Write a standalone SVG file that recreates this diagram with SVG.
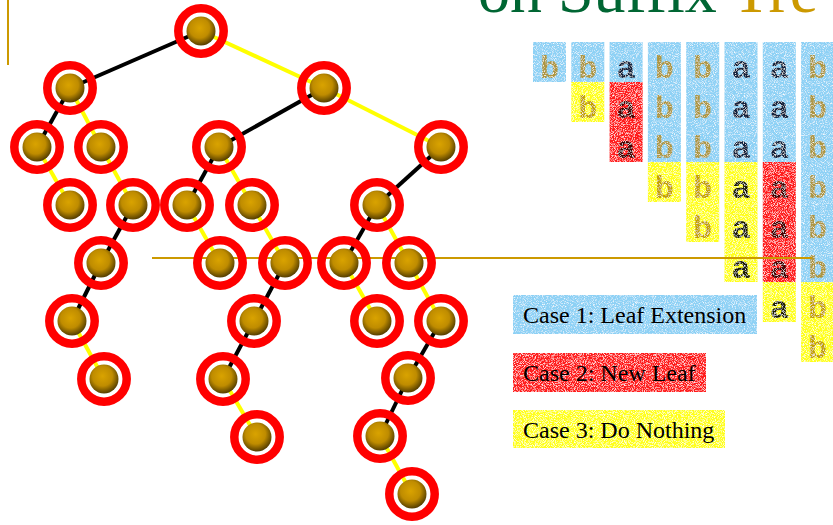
<svg xmlns="http://www.w3.org/2000/svg" width="833" height="525" viewBox="0 0 833 525">
  <defs>
    <radialGradient id="ballFill" cx="0.45" cy="0.4" r="0.62">
      <stop offset="0" stop-color="#d9a300"/>
      <stop offset="0.55" stop-color="#bf8c00"/>
      <stop offset="1" stop-color="#4d3800"/>
    </radialGradient>
    <!-- speckled texture used on the coloured cells -->
    <filter id="grain" x="0" y="0" width="1" height="1">
      <feTurbulence type="fractalNoise" baseFrequency="1.1" numOctaves="1" seed="7" result="noise"/>
      <feColorMatrix in="noise" type="matrix" values="0 0 0 0 1  0 0 0 0 1  0 0 0 0 1  3 0 0 0 -1.45" result="spots"/>
      <feComposite in="spots" in2="SourceAlpha" operator="in" result="spotsIn"/>
      <feMerge>
        <feMergeNode in="SourceGraphic"/>
        <feMergeNode in="spotsIn"/>
      </feMerge>
    </filter>
    <style>
      .ring { fill: none; stroke: #ff0000; stroke-width: 8.5; }
      .ball { fill: url(#ballFill); }
      .edge-a { stroke: #000000; stroke-width: 4; }
      .edge-b { stroke: #ffff00; stroke-width: 4; }
      .blue { fill: #8dd1f5; }
      .red { fill: #ff1a1a; }
      .yellow { fill: #ffff1a; }
      .ch { font-family: "Liberation Mono", "DejaVu Sans Mono", monospace; font-size: 32px; font-weight: bold; text-anchor: middle; }
      .cb { fill: #ad9640; }
      .cby { fill: #c4a200; }
      .ca { fill: #13233d; }
      .car { fill: #4a0505; }
      .cay { fill: #1a1a00; }
      .legend { font-family: "Liberation Serif", "Times New Roman", serif; font-size: 24px; fill: #000000; }
      .rule { stroke: #cc9900; stroke-width: 2; fill: none; }
    </style>
  </defs>

  <rect width="833" height="525" fill="#ffffff"/>

  <!-- heading, cut by the top edge -->
  <text x="478" y="12" font-family="Liberation Serif, Times New Roman, serif" font-size="64" fill="#006633">on Suffix <tspan fill="#cc9900">Tre</tspan></text>

  <!-- left margin rule -->
  <line class="rule" x1="8" y1="0" x2="8" y2="65"/>

  <!-- character columns -->
  <g id="grid" filter="url(#grain)">
    <rect class="blue" x="533" y="42" width="33" height="40"/>
    <rect class="blue" x="571.3" y="42" width="33" height="40"/>
    <rect class="yellow" x="571.3" y="82" width="33" height="40"/>
    <rect class="blue" x="609.6" y="42" width="33" height="40"/>
    <rect class="red" x="609.6" y="82" width="33" height="80"/>
    <rect class="blue" x="647.9" y="42" width="33" height="120"/>
    <rect class="yellow" x="647.9" y="162" width="33" height="40"/>
    <rect class="blue" x="686.2" y="42" width="33" height="120"/>
    <rect class="yellow" x="686.2" y="162" width="33" height="80"/>
    <rect class="blue" x="724.5" y="42" width="33" height="120"/>
    <rect class="yellow" x="724.5" y="162" width="33" height="120"/>
    <rect class="blue" x="762.8" y="42" width="33" height="120"/>
    <rect class="red" x="762.8" y="162" width="33" height="120"/>
    <rect class="yellow" x="762.8" y="282" width="33" height="40"/>
    <rect class="blue" x="801.1" y="42" width="33" height="240"/>
    <rect class="yellow" x="801.1" y="282" width="33" height="80"/>

    <text class="ch cb" x="549.5" y="78">b</text>

    <text class="ch cb" x="587.8" y="78">b</text>
    <text class="ch cby" x="587.8" y="118">b</text>

    <text class="ch ca" x="626.1" y="78">a</text>
    <text class="ch car" x="626.1" y="118">a</text>
    <text class="ch car" x="626.1" y="158">a</text>

    <text class="ch cb" x="664.4" y="78">b</text>
    <text class="ch cb" x="664.4" y="118">b</text>
    <text class="ch cb" x="664.4" y="158">b</text>
    <text class="ch cby" x="664.4" y="198">b</text>

    <text class="ch cb" x="702.7" y="78">b</text>
    <text class="ch cb" x="702.7" y="118">b</text>
    <text class="ch cb" x="702.7" y="158">b</text>
    <text class="ch cby" x="702.7" y="198">b</text>
    <text class="ch cby" x="702.7" y="238">b</text>

    <text class="ch ca" x="741" y="78">a</text>
    <text class="ch ca" x="741" y="118">a</text>
    <text class="ch ca" x="741" y="158">a</text>
    <text class="ch cay" x="741" y="198">a</text>
    <text class="ch cay" x="741" y="238">a</text>
    <text class="ch cay" x="741" y="278">a</text>

    <text class="ch ca" x="779.3" y="78">a</text>
    <text class="ch ca" x="779.3" y="118">a</text>
    <text class="ch ca" x="779.3" y="158">a</text>
    <text class="ch car" x="779.3" y="198">a</text>
    <text class="ch car" x="779.3" y="238">a</text>
    <text class="ch car" x="779.3" y="278">a</text>
    <text class="ch cay" x="779.3" y="318">a</text>

    <text class="ch cb" x="817.6" y="78">b</text>
    <text class="ch cb" x="817.6" y="118">b</text>
    <text class="ch cb" x="817.6" y="158">b</text>
    <text class="ch cb" x="817.6" y="198">b</text>
    <text class="ch cb" x="817.6" y="238">b</text>
    <text class="ch cb" x="817.6" y="278">b</text>
    <text class="ch cby" x="817.6" y="318">b</text>
    <text class="ch cby" x="817.6" y="358">b</text>
  </g>

  <!-- legend -->
  <g id="legend">
    <g filter="url(#grain)">
      <rect class="blue" x="513" y="295" width="244" height="39"/>
      <rect class="red" x="513" y="353" width="193" height="39"/>
      <rect class="yellow" x="513" y="410" width="212" height="38"/>
    </g>
    <text class="legend" x="523" y="323">Case 1: Leaf Extension</text>
    <text class="legend" x="523" y="381">Case 2: New Leaf</text>
    <text class="legend" x="523" y="438">Case 3: Do Nothing</text>
  </g>

  <!-- horizontal marker line -->
  <line class="rule" x1="152" y1="258" x2="812" y2="258"/>

  <!-- tree edges: black = 'a', yellow = 'b' -->
  <g id="connectors">
    <line class="edge-a" x1="201" y1="31" x2="70" y2="88"/>
    <line class="edge-b" x1="201" y1="31" x2="324" y2="88"/>
    <line class="edge-a" x1="70" y1="88" x2="37" y2="147"/>
    <line class="edge-b" x1="70" y1="88" x2="101" y2="147"/>
    <line class="edge-a" x1="324" y1="88" x2="219" y2="147"/>
    <line class="edge-b" x1="324" y1="88" x2="441" y2="147"/>
    <line class="edge-b" x1="37" y1="147" x2="70" y2="205"/>
    <line class="edge-b" x1="101" y1="147" x2="133" y2="205"/>
    <line class="edge-a" x1="219" y1="147" x2="187" y2="205"/>
    <line class="edge-b" x1="219" y1="147" x2="252" y2="205"/>
    <line class="edge-a" x1="441" y1="147" x2="377" y2="205"/>
    <line class="edge-a" x1="133" y1="205" x2="101" y2="263"/>
    <line class="edge-b" x1="187" y1="205" x2="220" y2="263"/>
    <line class="edge-b" x1="252" y1="205" x2="285" y2="263"/>
    <line class="edge-a" x1="377" y1="205" x2="344" y2="263"/>
    <line class="edge-b" x1="377" y1="205" x2="409" y2="263"/>
    <line class="edge-a" x1="101" y1="263" x2="72" y2="321"/>
    <line class="edge-b" x1="72" y1="321" x2="104" y2="379"/>
    <line class="edge-a" x1="285" y1="263" x2="254" y2="321"/>
    <line class="edge-a" x1="254" y1="321" x2="223" y2="379"/>
    <line class="edge-b" x1="223" y1="379" x2="257" y2="437"/>
    <line class="edge-b" x1="344" y1="263" x2="377" y2="321"/>
    <line class="edge-b" x1="409" y1="263" x2="441" y2="321"/>
    <line class="edge-a" x1="441" y1="321" x2="408" y2="378"/>
    <line class="edge-a" x1="408" y1="378" x2="380" y2="436"/>
    <line class="edge-b" x1="380" y1="436" x2="412" y2="494"/>
  </g>

  <!-- tree nodes -->
  <g id="n0"><circle class="ring" cx="201" cy="31" r="22.7"/><circle class="ball" cx="201" cy="31" r="14.5"/></g>
  <g id="n1"><circle class="ring" cx="70" cy="88" r="22.7"/><circle class="ball" cx="70" cy="88" r="14.5"/></g>
  <g id="n2"><circle class="ring" cx="324" cy="88" r="22.7"/><circle class="ball" cx="324" cy="88" r="14.5"/></g>
  <g id="n3"><circle class="ring" cx="37" cy="147" r="22.7"/><circle class="ball" cx="37" cy="147" r="14.5"/></g>
  <g id="n4"><circle class="ring" cx="101" cy="147" r="22.7"/><circle class="ball" cx="101" cy="147" r="14.5"/></g>
  <g id="n5"><circle class="ring" cx="219" cy="147" r="22.7"/><circle class="ball" cx="219" cy="147" r="14.5"/></g>
  <g id="n6"><circle class="ring" cx="441" cy="147" r="22.7"/><circle class="ball" cx="441" cy="147" r="14.5"/></g>
  <g id="n7"><circle class="ring" cx="70" cy="205" r="22.7"/><circle class="ball" cx="70" cy="205" r="14.5"/></g>
  <g id="n8"><circle class="ring" cx="133" cy="205" r="22.7"/><circle class="ball" cx="133" cy="205" r="14.5"/></g>
  <g id="n9"><circle class="ring" cx="187" cy="205" r="22.7"/><circle class="ball" cx="187" cy="205" r="14.5"/></g>
  <g id="n10"><circle class="ring" cx="252" cy="205" r="22.7"/><circle class="ball" cx="252" cy="205" r="14.5"/></g>
  <g id="n11"><circle class="ring" cx="377" cy="205" r="22.7"/><circle class="ball" cx="377" cy="205" r="14.5"/></g>
  <g id="n12"><circle class="ring" cx="101" cy="263" r="22.7"/><circle class="ball" cx="101" cy="263" r="14.5"/></g>
  <g id="n13"><circle class="ring" cx="220" cy="263" r="22.7"/><circle class="ball" cx="220" cy="263" r="14.5"/></g>
  <g id="n14"><circle class="ring" cx="285" cy="263" r="22.7"/><circle class="ball" cx="285" cy="263" r="14.5"/></g>
  <g id="n15"><circle class="ring" cx="344" cy="263" r="22.7"/><circle class="ball" cx="344" cy="263" r="14.5"/></g>
  <g id="n16"><circle class="ring" cx="409" cy="263" r="22.7"/><circle class="ball" cx="409" cy="263" r="14.5"/></g>
  <g id="n17"><circle class="ring" cx="72" cy="321" r="22.7"/><circle class="ball" cx="72" cy="321" r="14.5"/></g>
  <g id="n18"><circle class="ring" cx="104" cy="379" r="22.7"/><circle class="ball" cx="104" cy="379" r="14.5"/></g>
  <g id="n19"><circle class="ring" cx="254" cy="321" r="22.7"/><circle class="ball" cx="254" cy="321" r="14.5"/></g>
  <g id="n20"><circle class="ring" cx="223" cy="379" r="22.7"/><circle class="ball" cx="223" cy="379" r="14.5"/></g>
  <g id="n21"><circle class="ring" cx="257" cy="437" r="22.7"/><circle class="ball" cx="257" cy="437" r="14.5"/></g>
  <g id="n22"><circle class="ring" cx="377" cy="321" r="22.7"/><circle class="ball" cx="377" cy="321" r="14.5"/></g>
  <g id="n23"><circle class="ring" cx="441" cy="321" r="22.7"/><circle class="ball" cx="441" cy="321" r="14.5"/></g>
  <g id="n24"><circle class="ring" cx="408" cy="378" r="22.7"/><circle class="ball" cx="408" cy="378" r="14.5"/></g>
  <g id="n25"><circle class="ring" cx="380" cy="436" r="22.7"/><circle class="ball" cx="380" cy="436" r="14.5"/></g>
  <g id="n26"><circle class="ring" cx="412" cy="494" r="22.7"/><circle class="ball" cx="412" cy="494" r="14.5"/></g>
</svg>
